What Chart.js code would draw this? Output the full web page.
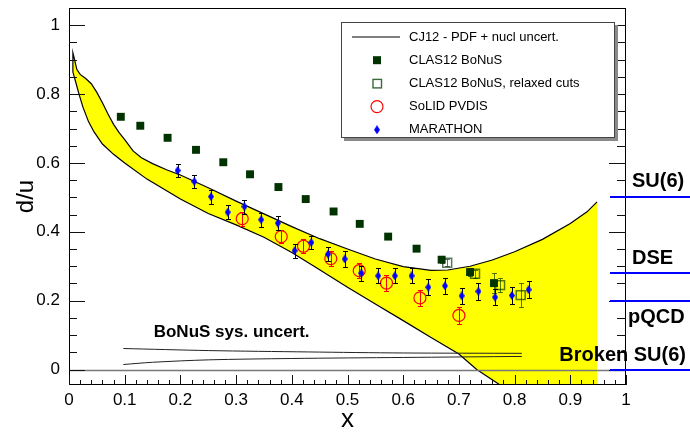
<!DOCTYPE html>
<html>
<head>
<meta charset="utf-8">
<script src="https://cdn.jsdelivr.net/npm/chart.js@4.4.1/dist/chart.umd.min.js"></script>
<style>
  html, body { margin: 0; padding: 0; background: #fff; }
  #wrap { width: 690px; height: 433px; }
</style>
</head>
<body>
<div id="wrap"><canvas id="duChart" width="690" height="433"></canvas></div>
<script>
// ── Data ──────────────────────────────────────────────────────
const X_TICKS = [0, 0.1, 0.2, 0.3, 0.4, 0.5, 0.6, 0.7, 0.8, 0.9, 1];
const Y_TICKS = [0, 0.2, 0.4, 0.6, 0.8, 1];

// CJ12 band (upper / lower edge)
const CJ12_UP_X = [0.007, 0.01, 0.014, 0.02, 0.03, 0.04, 0.05, 0.06, 0.07, 0.08, 0.09, 0.1, 0.115, 0.13, 0.15, 0.175, 0.2, 0.25, 0.3, 0.35, 0.4, 0.45, 0.5, 0.55, 0.6, 0.65, 0.68, 0.72, 0.76, 0.8, 0.85, 0.9, 0.93, 0.948];
const CJ12_UP_Y = [0.92, 0.9, 0.872, 0.857, 0.845, 0.83, 0.805, 0.775, 0.742, 0.712, 0.688, 0.668, 0.635, 0.615, 0.598, 0.58, 0.565, 0.528, 0.489, 0.452, 0.415, 0.38, 0.35, 0.321, 0.299, 0.288, 0.289, 0.3, 0.318, 0.342, 0.378, 0.424, 0.458, 0.487];
const CJ12_LO_X = [0.007, 0.012, 0.018, 0.025, 0.035, 0.045, 0.06, 0.08, 0.1, 0.14, 0.2, 0.25, 0.3, 0.35, 0.4, 0.45, 0.5, 0.55, 0.6, 0.65, 0.7, 0.732, 0.774, 0.8];
const CJ12_LO_Y = [0.864, 0.835, 0.8, 0.762, 0.72, 0.69, 0.655, 0.625, 0.6, 0.553, 0.495, 0.453, 0.42, 0.384, 0.34, 0.29, 0.239, 0.19, 0.142, 0.093, 0.045, 0, -0.045, -0.075];

// CLAS12 BoNuS
const BONUS_X = [0.093, 0.128, 0.177, 0.228, 0.277, 0.325, 0.376, 0.425, 0.475, 0.522, 0.573, 0.624, 0.669, 0.72, 0.763];
const BONUS_Y = [0.734, 0.708, 0.673, 0.638, 0.602, 0.567, 0.53, 0.495, 0.459, 0.423, 0.386, 0.351, 0.319, 0.283, 0.251];
const BONUS_ERR = [0.005, 0.005, 0.005, 0.005, 0.005, 0.005, 0.006, 0.006, 0.006, 0.007, 0.007, 0.008, 0.009, 0.012, 0.028];

// CLAS12 BoNuS, relaxed cuts
const RELAX_X = [0.679, 0.729, 0.774, 0.811];
const RELAX_Y = [0.31, 0.278, 0.245, 0.216];
const RELAX_ERR = [0.01, 0.012, 0.02, 0.034];

// SoLID PVDIS
const SOLID_X = [0.311, 0.381, 0.421, 0.47, 0.521, 0.57, 0.63, 0.7];
const SOLID_Y = [0.438, 0.386, 0.358, 0.322, 0.287, 0.251, 0.208, 0.157];
const SOLID_ERR = [0.02, 0.02, 0.02, 0.021, 0.022, 0.023, 0.024, 0.026];

// MARATHON
const MARA_X = [0.195, 0.225, 0.255, 0.285, 0.315, 0.345, 0.375, 0.405, 0.435, 0.465, 0.495, 0.525, 0.555, 0.585, 0.615, 0.645, 0.675, 0.705, 0.735, 0.765, 0.795, 0.825];
const MARA_Y = [0.578, 0.546, 0.502, 0.457, 0.473, 0.435, 0.425, 0.345, 0.369, 0.335, 0.321, 0.28, 0.272, 0.272, 0.272, 0.239, 0.243, 0.214, 0.227, 0.21, 0.215, 0.232];
const MARA_ERR = [0.02, 0.02, 0.02, 0.02, 0.02, 0.02, 0.02, 0.02, 0.02, 0.02, 0.022, 0.022, 0.022, 0.022, 0.022, 0.024, 0.024, 0.024, 0.024, 0.024, 0.025, 0.025];

// BoNuS systematic uncertainty band (two lines)
const SYS_HI_X = [0.0975, 0.25, 0.43, 0.6, 0.813];
const SYS_HI_Y = [0.061, 0.055, 0.051, 0.048, 0.047];
const SYS_LO_X = [0.0975, 0.15, 0.25, 0.4, 0.6, 0.813];
const SYS_LO_Y = [0.0145, 0.021, 0.028, 0.032, 0.035, 0.038];

// Model predictions at x -> 1
const REF_VALUES = [0.5, 0.28, 0.2, 0];
const REF_LABELS = ['SU(6)', 'DSE', 'pQCD', 'Broken SU(6)'];

// ── Styles ────────────────────────────────────────────────────
const FONT = "'Liberation Sans', Arial, Helvetica, sans-serif";
const YELLOW = '#ffff00';
const GREEN = '#003300';
const GREEN_SOFT = 'rgba(0,51,0,0.65)';
const RED = '#ff0000';
const BLUE = '#0000ff';
// text placement of the side labels: [dx from plot right, dy from line, align]
const REF_PLACE = [[6, -16, 'left'], [6, -15, 'left'], [2, 16, 'left'], [60, -15, 'right']];
const SYS_TEXT = { text: 'BoNuS sys. uncert.', x: 0.292, y: 0.108 };

function pts(xs, ys) { return xs.map(function (x, i) { return { x: x, y: ys[i] }; }); }

// blue diamond marker
function diamond(w, h, color) {
    const c = document.createElement('canvas');
    c.width = w; c.height = h;
    const g = c.getContext('2d');
    g.fillStyle = color;
    g.beginPath();
    g.moveTo(w / 2, 0); g.lineTo(w, h / 2); g.lineTo(w / 2, h); g.lineTo(0, h / 2);
    g.closePath(); g.fill();
    return c;
}
const DIAMOND = diamond(6, 9, BLUE);

const upPts = pts(CJ12_UP_X, CJ12_UP_Y);
const loPts = pts(CJ12_LO_X, CJ12_LO_Y);
// closed band: upper edge, straight cut at the last x, lower edge back
const bandShape = upPts.concat([{ x: CJ12_UP_X[CJ12_UP_X.length - 1], y: CJ12_LO_Y[CJ12_LO_Y.length - 1] }], loPts.slice().reverse());
const bandOutline = loPts.slice().reverse().concat(upPts);

// ── Plugins ───────────────────────────────────────────────────
const bandFill = {
    id: 'bandFill',
    beforeDatasetsDraw(chart) {
        const ctx = chart.ctx, a = chart.chartArea, xs = chart.scales.x, ys = chart.scales.y;
        ctx.save();
        ctx.beginPath(); ctx.rect(a.left, a.top, a.right - a.left, a.bottom - a.top); ctx.clip();
        ctx.fillStyle = YELLOW;
        ctx.beginPath();
        bandShape.forEach(function (p, i) {
            const px = xs.getPixelForValue(p.x), py = ys.getPixelForValue(p.y);
            if (i === 0) ctx.moveTo(px, py); else ctx.lineTo(px, py);
        });
        ctx.closePath(); ctx.fill();
        ctx.restore();
    }
};

const errorBars = {
    id: 'errorBars',
    beforeDatasetDraw(chart, args) {
        const ds = chart.data.datasets[args.index];
        if (!ds.errors) return;
        const ctx = chart.ctx, a = chart.chartArea, ys = chart.scales.y;
        ctx.save();
        ctx.beginPath(); ctx.rect(a.left, a.top, a.right - a.left, a.bottom - a.top); ctx.clip();
        ctx.strokeStyle = ds.errorColor; ctx.lineWidth = 1;
        args.meta.data.forEach(function (pt, i) {
            const v = ds.data[i].y, e = ds.errors[i];
            const t = Math.round(ys.getPixelForValue(v + e)) + 0.5;
            const b = Math.round(ys.getPixelForValue(v - e)) + 0.5;
            const x = Math.round(pt.x) + 0.5;
            ctx.beginPath();
            ctx.moveTo(x, t); ctx.lineTo(x, b);
            ctx.moveTo(x - 2.5, t); ctx.lineTo(x + 2.5, t);
            ctx.moveTo(x - 2.5, b); ctx.lineTo(x + 2.5, b);
            ctx.stroke();
        });
        ctx.restore();
    }
};

const frameTicks = {
    id: 'frameTicks',
    afterDatasetsDraw(chart) {
        const ctx = chart.ctx, a = chart.chartArea, xs = chart.scales.x, ys = chart.scales.y;
        ctx.save();
        // zero line
        const y0 = Math.round(ys.getPixelForValue(0)) + 0.5;
        ctx.strokeStyle = '#7a7a7a'; ctx.lineWidth = 1.5;
        ctx.beginPath(); ctx.moveTo(a.left, y0); ctx.lineTo(a.right, y0); ctx.stroke();

        // BoNuS label
        ctx.fillStyle = '#000';
        ctx.font = 'bold 17px ' + FONT;
        ctx.textAlign = 'center'; ctx.textBaseline = 'middle';
        ctx.fillText(SYS_TEXT.text, xs.getPixelForValue(SYS_TEXT.x), ys.getPixelForValue(SYS_TEXT.y));
        ctx.restore();
    },
    afterDraw(chart) {
        const ctx = chart.ctx, a = chart.chartArea, xs = chart.scales.x, ys = chart.scales.y;
        ctx.save();
        ctx.strokeStyle = '#000'; ctx.lineWidth = 1;
        ctx.strokeRect(a.left + 0.5, a.top + 0.5, a.right - a.left - 1, a.bottom - a.top - 1);

        ctx.strokeStyle = '#111';
        ctx.beginPath();
        // x ticks (bottom, pointing up)
        for (let i = 0; i <= 50; i++) {
            const px = Math.round(xs.getPixelForValue(i * 0.02)) + 0.5;
            const len = i % 5 === 0 ? 10 : 5;
            ctx.moveTo(px, a.bottom); ctx.lineTo(px, a.bottom - len);
        }
        // y ticks (left and right, pointing in)
        for (let j = 0; j <= 20; j++) {
            const py = Math.round(ys.getPixelForValue(j * 0.05)) + 0.5;
            const len = j % 4 === 0 ? 16 : 8;
            ctx.moveTo(a.left, py); ctx.lineTo(a.left + len, py);
            ctx.moveTo(a.right, py); ctx.lineTo(a.right - len - 1, py);
        }
        ctx.stroke();
        ctx.restore();
    }
};

const sideLabels = {
    id: 'sideLabels',
    afterDraw(chart) {
        const ctx = chart.ctx, a = chart.chartArea, ys = chart.scales.y;
        ctx.save();
        ctx.strokeStyle = BLUE; ctx.lineWidth = 2;
        ctx.font = 'bold 20px ' + FONT;
        ctx.fillStyle = '#000'; ctx.textBaseline = 'middle';
        REF_VALUES.forEach(function (v, i) {
            const py = Math.round(ys.getPixelForValue(v));
            ctx.beginPath(); ctx.moveTo(a.right - 16, py); ctx.lineTo(chart.width, py); ctx.stroke();
            const p = REF_PLACE[i];
            ctx.textAlign = p[2];
            ctx.fillText(REF_LABELS[i], a.right + p[0], py + p[1]);
        });
        ctx.restore();
    }
};

const boxLegend = {
    id: 'boxLegend',
    afterDraw(chart) {
        const ctx = chart.ctx;
        const L = 341, T = 22, W = 274, H = 116;
        ctx.save();
        ctx.fillStyle = '#8a8a8a';
        ctx.fillRect(L + 3, T + 3, W, H);
        ctx.fillStyle = '#fff';
        ctx.fillRect(L, T, W, H);
        ctx.strokeStyle = '#444'; ctx.lineWidth = 1;
        ctx.strokeRect(L + 0.5, T + 0.5, W - 1, H - 1);

        ctx.font = '13px ' + FONT;
        ctx.textAlign = 'left'; ctx.textBaseline = 'middle';
        const items = chart.data.datasets.filter(function (d) { return d.legendKind; });
        items.forEach(function (d, i) {
            const y = T + 15 + i * 23.2;
            const mx = 377;
            if (d.legendKind === 'line') {
                ctx.strokeStyle = '#000'; ctx.lineWidth = 1.2;
                ctx.beginPath(); ctx.moveTo(352, y); ctx.lineTo(400, y); ctx.stroke();
            } else if (d.legendKind === 'fsquare') {
                ctx.fillStyle = GREEN; ctx.fillRect(mx - 4, y - 4, 8, 8);
            } else if (d.legendKind === 'osquare') {
                ctx.strokeStyle = '#3a6a3a'; ctx.lineWidth = 1.4;
                ctx.strokeRect(mx - 4, y - 4, 8.5, 8.5);
            } else if (d.legendKind === 'circle') {
                ctx.strokeStyle = RED; ctx.lineWidth = 1.2;
                ctx.beginPath(); ctx.arc(mx, y, 6, 0, Math.PI * 2); ctx.stroke();
            } else if (d.legendKind === 'diamond') {
                ctx.drawImage(DIAMOND, mx - 3, y - 4.5);
            }
            ctx.fillStyle = '#000';
            ctx.fillText(d.label, 409, y);
        });
        ctx.restore();
    }
};

function noPad(s) { s.paddingTop = 0; s.paddingBottom = 0; s.paddingLeft = 0; s.paddingRight = 0; }

// ── Chart ─────────────────────────────────────────────────────
new Chart(document.getElementById('duChart'), {
    type: 'scatter',
    data: {
        datasets: [
            {
                label: 'CJ12 - PDF + nucl uncert.', legendKind: 'line', data: bandOutline, showLine: true,
                borderColor: '#000', borderWidth: 1.2, pointRadius: 0, tension: 0, fill: false, order: 19
            },
            {
                label: 'sys hi', data: pts(SYS_HI_X, SYS_HI_Y), showLine: true,
                borderColor: '#222', borderWidth: 1, pointRadius: 0, tension: 0.3, order: 18
            },
            {
                label: 'sys lo', data: pts(SYS_LO_X, SYS_LO_Y), showLine: true,
                borderColor: '#222', borderWidth: 1, pointRadius: 0, tension: 0.3, order: 17
            },
            {
                label: 'CLAS12 BoNuS', legendKind: 'fsquare', data: pts(BONUS_X, BONUS_Y),
                errors: BONUS_ERR, errorColor: GREEN_SOFT,
                pointStyle: 'rect', pointRadius: 5.6, backgroundColor: GREEN, borderColor: GREEN, borderWidth: 0, order: 4
            },
            {
                label: 'CLAS12 BoNuS, relaxed cuts', legendKind: 'osquare', data: pts(RELAX_X, RELAX_Y),
                errors: RELAX_ERR, errorColor: GREEN_SOFT,
                pointStyle: 'rect', pointRadius: 6.3, backgroundColor: 'rgba(0,0,0,0)', borderColor: GREEN_SOFT, borderWidth: 1.5, order: 5
            },
            {
                label: 'SoLID PVDIS', legendKind: 'circle', data: pts(SOLID_X, SOLID_Y),
                errors: SOLID_ERR, errorColor: RED,
                pointStyle: 'circle', pointRadius: 6, backgroundColor: 'rgba(0,0,0,0)', borderColor: RED, borderWidth: 1.2, order: 3
            },
            {
                label: 'MARATHON', legendKind: 'diamond', data: pts(MARA_X, MARA_Y),
                errors: MARA_ERR, errorColor: '#000',
                pointStyle: DIAMOND, pointRadius: 4, order: 2
            }
        ]
    },
    options: {
        responsive: false,
        animation: false,
        events: [],
        layout: { padding: { top: 8, right: 64, left: 0, bottom: 0 } },
        plugins: { legend: { display: false }, tooltip: { enabled: false } },
        scales: {
            x: {
                type: 'linear', position: 'bottom', min: 0, max: 1,
                grid: { display: false, drawTicks: false }, border: { display: false },
                afterBuildTicks: function (s) { s.ticks = X_TICKS.map(function (v) { return { value: v }; }); },
                afterFit: function (s) { s.height = 48; noPad(s); },
                ticks: { color: '#000', font: { family: FONT, size: 17 }, padding: 5, maxRotation: 0, autoSkip: false,
                         callback: function (v) { return String(v); } },
                title: { display: true, text: 'x', color: '#000', font: { family: FONT, size: 26 }, padding: { top: 0, bottom: -2 } }
            },
            y: {
                type: 'linear', position: 'left', min: -0.045, max: 1.05,
                grid: { display: false, drawTicks: false }, border: { display: false },
                afterBuildTicks: function (s) { s.ticks = Y_TICKS.map(function (v) { return { value: v }; }); },
                afterFit: function (s) { s.width = 69; noPad(s); },
                ticks: { color: '#000', font: { family: FONT, size: 17 }, padding: 9, autoSkip: false,
                         callback: function (v) { return String(v); } },
                title: { display: true, text: 'd/u', color: '#000', font: { family: FONT, size: 24 }, padding: { top: 12, bottom: 0 } }
            }
        }
    },
    plugins: [bandFill, errorBars, frameTicks, sideLabels, boxLegend]
});
</script>
</body>
</html>
